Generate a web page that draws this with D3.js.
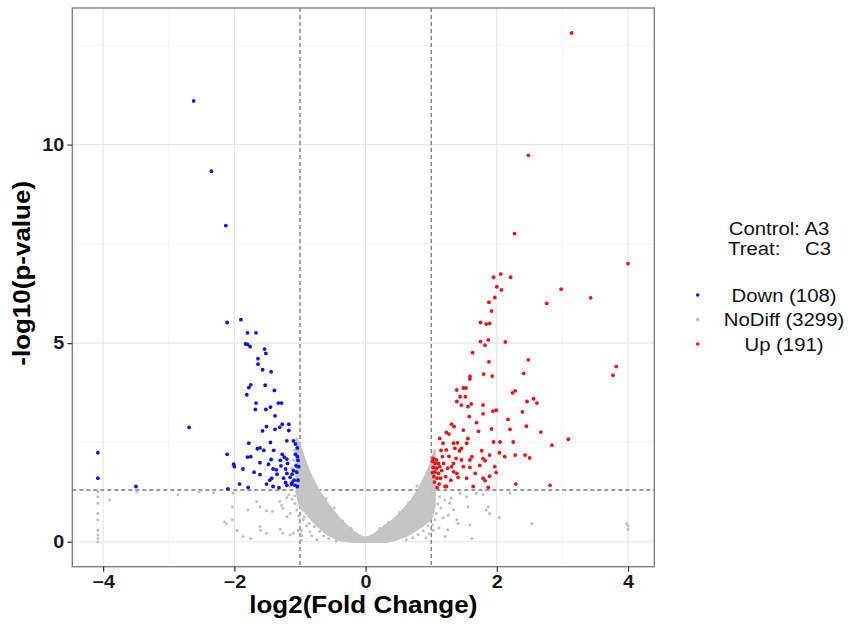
<!DOCTYPE html>
<html lang="en">
<head>
<meta charset="UTF-8">
<title>Volcano plot A3 vs C3</title>
<script src="https://d3js.org/d3.v7.min.js"></script>
<style>
  body { margin: 0; background: #fff; }
  text { font-family: "Liberation Sans", Arial, Helvetica, sans-serif; }
  .tick-label { font-weight: bold; font-size: 17.5px; fill: #1a1a1a; }
  .axis-title { font-weight: bold; font-size: 23px; fill: #000; }
  .legend { font-size: 18px; fill: #111; }
</style>
</head>
<body>
<div id="chart"></div>
<script>
// ---- data: [log2FC, -log10(p)] ----
const downPts = [
  [-2.62,11.10],[-2.35,9.33],[-2.13,7.96],
  [-2.11,5.52],[-1.90,5.59],[-1.80,5.26],[-1.67,5.26],[-1.83,4.98],[-1.80,4.97],[-1.76,4.91],
  [-1.54,4.85],[-1.52,4.74],[-1.64,4.61],[-1.64,4.47],[-1.57,4.33],[-1.44,4.28],[-1.75,3.95],
  [-1.78,3.88],[-1.53,3.94],[-1.39,3.81],[-1.81,3.70],[-1.67,3.49],[-1.68,3.33],[-1.52,3.33],
  [-1.45,3.39],[-1.33,3.49],[-1.28,3.49],[-1.38,3.17],[-2.69,2.88],[-1.51,2.90],[-1.57,2.79],
  [-1.38,2.83],[-1.31,2.88],[-1.27,2.96],[-1.17,2.96],[-1.17,2.80],[-1.78,2.48],[-1.65,2.34],
  [-1.61,2.36],[-1.45,2.50],[-1.40,2.30],[-1.20,2.54],[-1.10,2.54],[-1.07,2.46],[-1.04,2.36],
  [-4.08,2.24],[-2.11,2.20],[-2.01,1.95],[-2.00,1.89],[-1.87,1.83],[-1.80,2.13],[-1.75,2.14],
  [-1.61,1.99],[-1.61,1.69],[-1.44,2.07],[-1.27,2.20],[-1.24,2.13],[-1.20,2.08],[-1.07,2.20],
  [-1.04,2.14],[-1.41,1.83],[-1.36,1.81],[-1.29,1.91],[-1.22,1.83],[-1.20,1.72],[-1.10,1.79],
  [-1.06,1.91],[-1.02,1.89],[-4.08,1.60],[-1.43,1.60],[-1.46,1.55],[-1.51,1.45],[-1.41,1.39],
  [-1.32,1.36],[-1.22,1.49],[-1.20,1.42],[-1.13,1.45],[-1.08,1.42],[-1.04,1.39],[-1.12,1.49],
  [-3.50,1.39],[-2.10,1.33],[-1.79,1.37],[-1.12,1.70],[-1.19,1.97],
  [-1.03,2.05],[-1.05,1.75],[-1.09,1.55],[-1.15,1.62],[-1.25,1.60],[-1.30,2.05],[-1.35,1.70],
  [-1.48,1.95],[-1.55,2.30],[-1.70,1.75],[-1.92,1.45],[-1.03,1.55]
];

const upPts = [
  [3.14,12.81],[2.48,9.73],[2.27,7.76],[4.00,7.00],[1.95,6.66],[2.06,6.74],[2.21,6.66],
  [2.00,6.42],[2.07,6.34],[2.98,6.36],[3.43,6.14],[2.76,6.00],[1.97,6.15],[1.88,6.03],[1.92,5.81],
  [1.75,5.52],[1.84,5.48],[1.89,5.50],[1.75,5.04],[1.82,4.95],[1.87,5.08],[2.13,5.03],[1.63,4.76],
  [1.88,4.53],[2.48,4.58],[1.80,4.22],[1.93,4.17],[2.41,4.24],[1.59,4.16],[1.59,4.10],[3.77,4.19],
  [3.82,4.41],[1.39,3.82],[1.49,3.87],[1.53,3.87],[1.44,3.65],[1.52,3.65],[1.39,3.53],[1.46,3.44],
  [1.61,3.47],[1.56,3.40],[1.79,3.44],[2.24,3.75],[2.28,3.80],[2.46,3.53],[2.56,3.60],[2.61,3.49],
  [1.79,3.22],[1.94,3.29],[1.99,3.31],[2.39,3.27],[1.58,3.15],[1.69,3.00],[1.31,2.96],[1.35,2.90],
  [1.49,2.81],[1.72,2.78],[1.92,2.84],[2.20,2.83],[2.17,3.08],[2.45,2.91],[2.67,2.76],[3.09,2.58],
  [1.23,2.75],[1.27,2.71],[1.13,2.60],[1.18,2.48],[1.34,2.48],[1.40,2.49],[1.56,2.60],[1.54,2.48],
  [1.36,2.35],[1.46,2.35],[1.43,2.29],[1.23,2.31],[1.95,2.51],[2.05,2.51],[2.25,2.51],[2.84,2.43],
  [1.77,2.29],[2.04,2.24],[1.89,2.18],[2.12,2.14],[2.28,2.18],[2.43,2.18],[2.50,2.11],[1.79,2.09],
  [1.82,2.04],[1.62,2.14],[1.59,2.06],[1.46,2.06],[1.34,1.97],[1.31,1.89],[1.49,1.89],[1.59,1.87],
  [1.74,1.92],[1.97,1.89],[1.67,1.72],[1.79,1.60],[1.82,1.54],[1.89,1.65],[1.99,1.74],[1.54,1.60],
  [1.41,1.62],[1.34,1.76],[1.39,1.72],[1.22,1.64],[1.21,1.39],[1.64,1.39],[1.87,1.37],[2.29,1.45],
  [2.81,1.42],[1.09,1.36],[1.23,1.39],
  [1.03,2.10],[1.08,2.06],[1.06,1.97],[1.11,1.97],[1.03,1.87],[1.08,1.85],[1.13,1.89],[1.06,1.76],
  [1.11,1.72],[1.16,1.79],[1.04,1.64],[1.09,1.60],[1.14,1.60],[1.19,1.97],[1.17,2.14],[1.02,2.02],
  [1.02,1.74],[1.05,1.50],[1.12,1.45],[1.27,2.15],[1.25,1.85],[1.30,1.55],[1.38,2.10],[1.15,2.30]
];

// scattered NoDiff points outside the dense core
const nodiffPts = [
  [-4.08,1.26],[-4.08,1.13],[-4.08,0.97],[-4.08,0.71],[-4.08,0.55],[-4.08,0.29],[-4.08,0.17],
  [-4.08,0.08],[-4.08,0.00],[-3.90,1.05],[-3.49,1.26],[-2.86,1.18],[-2.54,1.26],[-2.32,1.23],
  [-2.02,1.22],[-2.03,0.88],[-2.15,0.50],[-2.12,0.45],[-2.03,0.55],[-1.96,0.28],[-1.87,0.13],
  [-1.79,0.80],[-1.75,0.08],[-1.66,1.01],[-1.61,0.88],[-1.61,0.38],[-1.60,0.29],[-1.51,0.78],
  [-1.51,0.21],[-1.42,0.76],[-1.31,1.01],[-1.28,0.92],[-1.26,0.84],[-1.30,0.31],[-1.26,0.21],
  [-1.20,0.63],[-1.15,0.71],[-1.15,0.17],[-1.10,0.21],[-1.20,1.11],[-1.17,1.18],[-1.12,1.07],
  [-1.08,0.96],[-1.05,0.80],[-1.03,0.29],[-0.98,0.04],[-0.98,0.29],[-1.15,1.39],
  [-1.05,1.25],[-1.02,0.65],[-0.95,0.55],[-0.90,0.40],[-0.97,0.15],[-0.85,0.25],[-1.08,1.15],
  [-0.93,0.62],[-0.86,0.46],[-0.78,0.38],[-0.70,0.26],[-0.64,0.14],[-0.56,0.08],[-0.82,0.15],
  [-0.74,0.05],[-0.45,0.02],[-1.08,2.30],[-1.10,2.05],[-1.12,1.85],[-0.60,1.08],[-0.48,0.85],
  [-0.35,0.52],[-0.22,0.33],[0.22,0.33],[0.35,0.48],[0.52,0.74],[0.66,0.98],[0.78,1.40],
  [1.13,1.13],[1.21,1.05],[1.28,0.97],[1.34,0.80],[1.26,0.67],[1.39,0.55],[1.41,0.46],[1.59,0.42],
  [1.62,0.08],[1.21,0.13],[1.03,0.29],[1.06,0.55],[1.08,0.71],[1.44,1.22],[1.54,1.13],[1.69,1.22],
  [1.79,1.19],[1.56,0.88],[1.84,0.80],[1.87,0.88],[1.89,0.71],[2.04,0.61],[2.20,1.22],[2.53,0.46],
  [3.98,0.46],[4.00,0.40],[4.00,0.31],
  [1.05,1.20],[1.10,0.95],[1.15,0.85],[1.02,0.42],[1.12,0.35],[1.25,0.30],[0.97,0.20],[1.18,0.60],
  [1.30,1.10],[1.00,1.28],[0.95,0.40],[0.88,0.28],[0.80,0.18],[0.72,0.10],[0.62,0.05],[0.92,0.10]
];

// dense NoDiff core: lower / upper -log10(p) read along log2FC
const cloudX  = [-1.05,-1.00,-0.90,-0.80,-0.70,-0.60,-0.50,-0.40,-0.30,-0.20,-0.10, 0.00, 0.10, 0.20, 0.30, 0.40, 0.50, 0.60, 0.70, 0.80, 0.90, 1.00, 1.05];
const cloudLo = [ 1.30, 0.90, 0.72, 0.52, 0.36, 0.22, 0.12, 0.05, 0.02, 0.00, 0.00, 0.00, 0.00, 0.00, 0.00, 0.03, 0.08, 0.14, 0.22, 0.33, 0.45, 0.60, 0.90];
const cloudHi = [ 2.60, 2.40, 1.92, 1.55, 1.25, 1.00, 0.78, 0.58, 0.42, 0.27, 0.15, 0.10, 0.15, 0.27, 0.40, 0.52, 0.66, 0.85, 1.03, 1.30, 1.62, 2.00, 2.30];

const xTicks = [-4, -2, 0, 2, 4];
const yTicks = [0, 5, 10];
const xMinor = [-3, -1, 1, 3];
const yMinor = [2.5, 7.5, 12.5];
const fcCut = [-1, 1];
const pCut = 1.301;

const legendKeys = ["Down (108)", "NoDiff (3299)", "Up (191)"];
const legendColors = ["#1010ee", "#bebebe", "#ee1010"];

// ---- layout ----
const width = 851, height = 625;
const pLeft = 72.3, pRight = 654.3, pTop = 8, pBottom = 566.7;
const stretch = 1.13;   // the source text is rendered a little wide

const svg = d3.select("#chart").append("svg")
  .attr("width", width).attr("height", height);

const x = d3.scaleLinear().domain([-4.47, 4.40]).range([pLeft, pRight]);
const y = d3.scaleLinear().domain([-0.63, 13.44]).range([pBottom, pTop]);

// grid
const grid = svg.append("g");
grid.selectAll(".gxm").data(xMinor).enter().append("line")
  .attr("x1", d => x(d)).attr("x2", d => x(d)).attr("y1", pTop).attr("y2", pBottom)
  .attr("stroke", "#f1f1f1").attr("stroke-width", 0.8);
grid.selectAll(".gym").data(yMinor).enter().append("line")
  .attr("y1", d => y(d)).attr("y2", d => y(d)).attr("x1", pLeft).attr("x2", pRight)
  .attr("stroke", "#f1f1f1").attr("stroke-width", 0.8);
grid.selectAll(".gx").data(xTicks).enter().append("line")
  .attr("x1", d => x(d)).attr("x2", d => x(d)).attr("y1", pTop).attr("y2", pBottom)
  .attr("stroke", "#e4e4e4").attr("stroke-width", 1.1);
grid.selectAll(".gy").data(yTicks).enter().append("line")
  .attr("y1", d => y(d)).attr("y2", d => y(d)).attr("x1", pLeft).attr("x2", pRight)
  .attr("stroke", "#e4e4e4").attr("stroke-width", 1.1);

// threshold lines
const cut = svg.append("g").attr("stroke", "#777").attr("stroke-width", 1.3)
  .attr("stroke-dasharray", "4,3");
cut.selectAll("line.v").data(fcCut).enter().append("line")
  .attr("x1", d => x(d)).attr("x2", d => x(d)).attr("y1", pTop).attr("y2", pBottom);
cut.append("line")
  .attr("x1", pLeft).attr("x2", pRight).attr("y1", y(pCut)).attr("y2", y(pCut));

// dense NoDiff core
const area = d3.area()
  .x((d, i) => x(cloudX[i]))
  .y0((d, i) => y(cloudLo[i]))
  .y1((d, i) => y(cloudHi[i]))
  .curve(d3.curveMonotoneX);
svg.append("path")
  .datum(cloudX)
  .attr("d", area)
  .attr("fill", "#c4c4c4")
  .attr("stroke", "#c4c4c4")
  .attr("stroke-width", 2.5)
  .attr("stroke-linejoin", "round");

// points
function dots(data, color, r) {
  svg.append("g").selectAll("circle").data(data).enter().append("circle")
    .attr("cx", d => x(d[0])).attr("cy", d => y(d[1]))
    .attr("r", r).attr("fill", color);
}
dots(nodiffPts, "#bebebe", 1.5);
dots(downPts, legendColors[0], 1.9);
dots(upPts, legendColors[2], 1.9);

// panel border
svg.append("rect")
  .attr("x", pLeft).attr("y", pTop)
  .attr("width", pRight - pLeft).attr("height", pBottom - pTop)
  .attr("fill", "none").attr("stroke", "#808080").attr("stroke-width", 1.4);

// axes
const xAxis = svg.append("g").attr("transform", `translate(0,${pBottom})`)
  .call(d3.axisBottom(x).tickValues(xTicks).tickSize(5).tickPadding(4).tickFormat(d3.format("d")));
const yAxis = svg.append("g").attr("transform", `translate(${pLeft},0)`)
  .call(d3.axisLeft(y).tickValues(yTicks).tickSize(5).tickPadding(3).tickFormat(d3.format("d")));
[xAxis, yAxis].forEach(g => {
  g.select(".domain").remove();
  g.selectAll(".tick line").attr("stroke", "#333").attr("stroke-width", 1.2);
  g.selectAll(".tick text").attr("class", "tick-label")
    .attr("font-family", null).attr("font-size", null)
    .attr("transform", `scale(${stretch},1)`);
});
yAxis.selectAll(".tick text").attr("x", -8 / stretch);

// horizontal text helper (stretched around its anchor point)
function label(g, cls, px, py, anchor, str) {
  return g.append("text").attr("class", cls)
    .attr("transform", `translate(${px},${py}) scale(${stretch},1)`)
    .attr("text-anchor", anchor).text(str);
}

label(svg, "axis-title", (pLeft + pRight) / 2, 613, "middle", "log2(Fold Change)");
svg.append("text").attr("class", "axis-title")
  .attr("transform", `translate(30,${(pTop + pBottom) / 2 - 14}) rotate(-90) scale(${stretch},1)`)
  .attr("text-anchor", "middle").text("-log10(p-value)");

// legend
const lg = svg.append("g");
label(lg, "legend", 779, 235, "middle", "Control: A3");
label(lg, "legend", 728, 255, "start", "Treat:");
label(lg, "legend", 831, 255, "end", "C3");

const legendY = d3.scalePoint().domain(legendKeys).range([295, 344]);
lg.selectAll("circle").data(legendKeys).enter().append("circle")
  .attr("cx", 697.7).attr("cy", d => legendY(d))
  .attr("r", 1.8).attr("fill", (d, i) => legendColors[i]);
legendKeys.forEach(k => label(lg, "legend", 784, legendY(k) + 6.5, "middle", k));
</script>
</body>
</html>
